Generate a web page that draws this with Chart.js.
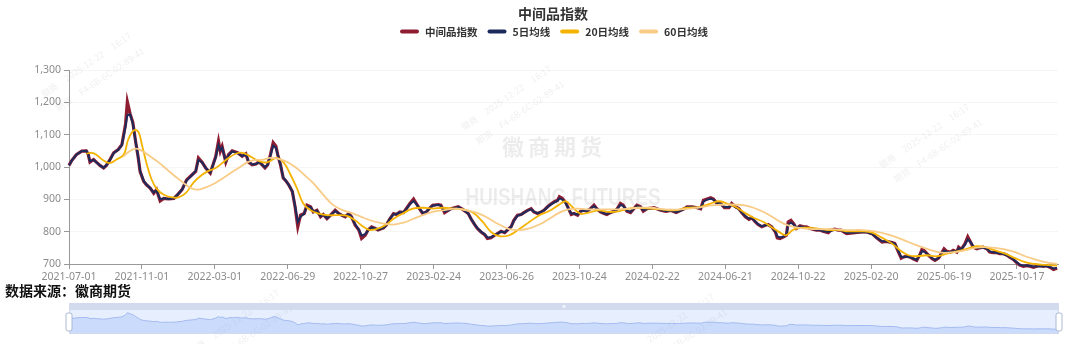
<!DOCTYPE html>
<html>
<head>
<meta charset="utf-8">
<script src="https://cdn.jsdelivr.net/npm/chart.js@4.4.1/dist/chart.umd.min.js"></script>
<style>
  body { margin: 0; background: #fff; }
  #wrap { position: relative; width: 1080px; height: 344px; }
  #main { position: absolute; left: 0; top: 0; }
  #zoom { position: absolute; left: 60px; top: 300px; }
</style>
</head>
<body>
<div id="wrap">
  <canvas id="main" width="1080" height="344"></canvas>
  <canvas id="zoom" width="1008" height="38"></canvas>
</div>
<script>
// tick labels, one every 80 trading days
const tickLabels = ['2021-07-01', '2021-11-01', '2022-03-01', '2022-06-29', '2022-10-27', '2023-02-24', '2023-06-26',
  '2023-10-24', '2024-02-22', '2024-06-21', '2024-10-22', '2025-02-20', '2025-06-19', '2025-10-17'];
const lastDay = 1085;

// trading-day position of each reading of the index / 5 day line
const indexPos = [
  0,3,8,14,19,21,23,27,30,34,38,41,45,49,54,58,62,64,67,70,
  73,76,78,82,85,89,93,96,100,104,109,115,118,124,129,135,139,142,146,150,
  155,161,164,166,168,172,175,179,185,190,194,197,201,205,208,
  210,215,218,221,224,227,229,232,235,238,241,245,248,251,254,258,261,265,268,272,
  276,279,283,287,292,296,299,303,307,310,314,318,321,325,328,332,336,339,345,348,
  352,356,359,363,367,370,374,378,381,385,388,392,396,399,405,408,412,416,419,
  427,432,438,441,445,448,452,456,459,463,467,470,474,478,481,485,488,492,496,499,
  503,507,510,514,518,521,525,528,532,536,538,541,545,548,551,554,558,561,565,568,
  572,576,579,583,587,590,594,598,601,605,608,612,616,619,623,627,630,634,
  642,649,655,660,666,669,675,678,684,689,693,696,700,704,707,711,715,719,724,727,
  731,735,738,742,746,749,753,756,760,764,767,771,775,777,780,784,787,789,792,795,
  798,802,806,809,813,816,820,824,827,833,836,840,844,847,853,
  870,875,881,886,892,897,903,906,910,913,915,919,923,926,930,934,936,939,943,947,
  950,954,957,960,963,967,970,974,976,979,983,986,989,992,996,999,1003,1007,1010,1014,
  1018,1021,1025,1029,1032,1036,1040,1043,1047,1051,1054,1058,1062,1065,1069,1072,1076,1080,1084
];
const indexVals = [
  1005,1020,1038,1049,1050,1040,1015,1023,1015,1005,997,1005,1023,1044,1054,1069,1132,1202,1165,1138,
  1080,1028,986,955,945,935,919,930,895,903,901,903,911,930,960,976,986,1028,1015,997,
  981,1033,1080,1049,1064,1015,1038,1050,1044,1033,1041,1015,1007,1009,1015,
  1012,997,1007,1038,1075,1064,1038,1007,966,957,945,924,877,815,851,856,882,877,861,866,
  846,853,840,851,866,856,851,846,856,846,820,805,779,789,805,815,810,805,812,820,
  840,856,853,861,859,871,887,901,887,869,856,861,874,882,884,882,859,866,871,
  877,869,856,840,822,810,799,791,779,781,789,794,801,797,805,815,835,851,853,859,
  866,871,861,856,861,866,877,884,892,897,908,903,890,871,853,856,851,863,866,863,
  871,882,871,861,856,853,859,863,869,887,882,863,859,869,882,877,863,871,
  874,866,863,866,859,863,871,877,877,874,871,897,901,905,901,887,887,874,874,887,
  877,871,859,846,838,843,830,822,815,820,822,815,799,781,779,784,789,830,835,825,
  810,818,815,815,810,808,805,805,801,797,805,808,805,805,794,
  799,799,794,781,768,770,766,763,737,718,721,724,721,716,711,732,747,739,727,716,
  711,718,732,747,739,737,742,737,752,745,763,784,768,752,747,750,752,747,737,735,
  735,732,732,727,721,714,703,697,693,695,693,690,693,695,693,695,690,683,687
];
const ma5Vals = [
  1005,1020,1038,1049,1050,1040,1018,1022,1015,1005,998,1005,1022,1043,1053,1068,1125,1160,1163,1135,
  1080,1030,988,957,946,935,921,928,900,903,901,903,911,930,958,975,988,1022,1014,997,
  983,1030,1068,1052,1060,1018,1036,1048,1043,1034,1039,1017,1008,1009,1014,
  1012,999,1008,1035,1066,1060,1038,1008,968,957,945,925,880,830,846,856,878,876,862,865,
  848,852,842,851,864,856,851,847,854,846,822,806,788,792,803,813,810,806,812,820,
  840,854,854,860,860,870,885,895,886,870,858,861,873,880,883,880,862,866,870,
  876,869,856,840,823,811,800,792,782,783,789,794,800,798,805,815,833,849,853,858,
  865,869,862,857,861,866,876,883,890,896,903,900,888,871,856,856,853,862,865,864,
  870,879,871,862,857,855,859,863,869,883,880,865,861,869,879,876,866,870,
  873,867,864,865,860,863,870,876,876,874,872,893,899,902,899,889,886,876,876,884,
  876,870,860,848,840,842,831,823,817,820,821,814,800,785,782,785,792,822,828,822,
  812,816,814,813,810,808,806,805,802,799,803,806,805,804,796,
  799,798,793,781,770,770,766,762,740,722,722,723,721,717,713,730,740,737,727,718,
  713,719,731,742,738,737,740,738,749,746,760,776,768,755,749,750,751,747,739,736,
  735,733,731,727,722,714,705,698,695,695,694,692,693,694,693,694,691,686,688
];

const ma20Pos = [
  19,25,30,38,45,52,60,65,71,76,80,85,90,96,104,113,120,128,137,146,
  153,161,168,175,183,190,197,205,212,218,228,236,243,250,257,265,274,283,294,305,
  314,323,330,337,346,356,366,377,388,399,410,425,432,443,454,463,472,483,494,505,
  516,526,537,545,552,561,570,581,592,603,614,625,639,649,664,678,693,704,713,722,
  731,740,751,762,773,782,787,794,802,813,824,834,845,853,870,881,892,903,912,921,
  930,941,952,963,974,985,996,1005,1016,1027,1038,1049,1060,1071,1084
];
const ma20Vals = [
  1041,1044,1038,1020,1012,1023,1038,1085,1113,1109,1069,1012,966,933,914,906,906,919,953,976,
  988,997,1012,1028,1041,1044,1036,1023,1015,1015,1028,1012,976,935,887,866,856,851,851,849,
  835,815,805,808,818,840,856,871,874,871,874,871,869,859,830,799,786,789,808,830,
  851,863,882,894,877,856,859,866,861,863,871,874,871,869,866,874,877,887,894,887,
  877,861,843,830,810,794,789,805,812,812,808,805,805,801,801,797,781,763,742,727,
  724,727,724,732,739,747,755,752,742,732,718,706,700,697,695
];

const ma60Pos = [
  60,65,73,80,89,98,108,117,126,135,142,150,159,168,177,186,196,205,212,221,
  236,247,258,268,279,290,301,312,323,333,345,356,367,378,388,399,410,425,436,450,
  461,472,483,494,505,516,527,538,548,559,570,581,592,603,614,625,639,653,671,689,
  707,726,740,751,762,773,784,795,806,816,827,838,853,870,884,899,914,928,943,957,
  972,983,994,1005,1016,1027,1038,1049,1060,1071,1084
];
const ma60Vals = [
  1033,1046,1057,1050,1033,1015,991,970,950,933,930,937,948,964,981,997,1015,1022,1022,1028,
  1020,1002,976,950,914,882,866,856,843,833,825,822,828,840,851,861,866,871,866,856,
  840,822,808,805,810,822,840,859,869,871,869,869,869,869,871,874,874,869,869,874,
  882,884,882,874,861,843,825,815,810,808,808,808,805,805,801,791,776,760,745,735,
  737,742,750,752,750,745,737,724,714,706,700
];

const seriesNames = ['中间品指数', '5日均线', '20日均线', '60日均线'];
const seriesColors = ['#8e1d32', '#1d2b5c', '#f3b300', '#f8cb86'];

function pts(xs, ys) {
  return xs.map((x, k) => ({ x: x, y: ys[k] }));
}

// faint diagonal watermark
function smallMark(ctx, x, y) {
  ctx.save();
  ctx.translate(x, y);
  ctx.rotate(-0.6);
  ctx.font = '9px "Noto Sans CJK SC"';
  ctx.fillStyle = 'rgba(0,0,0,0.07)';
  ctx.textAlign = 'left';
  ctx.textBaseline = 'middle';
  ctx.fillText('徽商     2025-12-22     16:17', 0, 0);
  ctx.fillText('期货     F4-6B-6C-02-89-41', 4, 20);
  ctx.restore();
}

const decor = {
  id: 'decor',
  beforeDatasetsDraw(chart) {
    const ctx = chart.ctx;
    ctx.save();
    ctx.fillStyle = 'rgba(0,0,0,0.075)';
    ctx.textAlign = 'center';
    ctx.textBaseline = 'middle';
    ctx.font = 'bold 22px "Noto Sans CJK SC"';
    '徽商期货'.split('').forEach((c, k) => ctx.fillText(c, 513 + k * 26, 147));
    ctx.font = 'bold 24px "Liberation Sans"';
    ctx.fillText('HUISHANG FUTURES', 563, 198, 195);
    ctx.restore();
    [[42, 95], [462, 128], [880, 166], [190, 352], [625, 356]].forEach(p => smallMark(ctx, p[0], p[1]));
  },
  afterDraw(chart) {
    const ctx = chart.ctx;
    ctx.save();
    // title
    ctx.fillStyle = '#333';
    ctx.textAlign = 'center';
    ctx.textBaseline = 'middle';
    ctx.font = 'bold 14px "Noto Sans CJK SC"';
    ctx.fillText('中间品指数', 553, 14);

    // legend
    ctx.font = 'bold 10.5px "Noto Sans CJK SC"';
    ctx.textAlign = 'left';
    let x = 400;
    chart.data.datasets.forEach(ds => {
      ctx.strokeStyle = ds.borderColor;
      ctx.lineWidth = 4;
      ctx.lineCap = 'round';
      ctx.beginPath();
      ctx.moveTo(x + 2, 31.5);
      ctx.lineTo(x + 17, 31.5);
      ctx.stroke();
      ctx.fillStyle = '#333';
      ctx.fillText(ds.label, x + 25, 32);
      x += 25 + ctx.measureText(ds.label).width + 10;
    });

    // source note
    ctx.fillStyle = '#111';
    ctx.font = 'bold 14px "Noto Sans CJK SC"';
    ctx.fillText('数据来源：徽商期货', 5, 291, 130);
    ctx.restore();
  }
};

const axisFont = { family: '"Noto Sans", sans-serif', size: 10.5 };

new Chart(document.getElementById('main'), {
  type: 'line',
  data: {
    datasets: [
      { label: seriesNames[0], data: pts(indexPos, indexVals), borderColor: seriesColors[0], borderWidth: 3.2, order: 4, clip: false },
      { label: seriesNames[1], data: pts(indexPos, ma5Vals), borderColor: seriesColors[1], borderWidth: 2, order: 3, clip: false },
      { label: seriesNames[2], data: pts(ma20Pos, ma20Vals), borderColor: seriesColors[2], borderWidth: 1.8, tension: 0.4, order: 2, clip: false },
      { label: seriesNames[3], data: pts(ma60Pos, ma60Vals), borderColor: seriesColors[3], borderWidth: 1.8, tension: 0.4, order: 1, clip: false }
    ]
  },
  options: {
    responsive: false,
    animation: false,
    layout: { padding: { left: 0, right: 22, top: 70, bottom: 58 } },
    elements: { point: { radius: 0 } },
    plugins: { legend: { display: false }, tooltip: { enabled: false } },
    scales: {
      x: {
        type: 'linear',
        min: 0,
        max: lastDay,
        afterBuildTicks: s => { s.ticks = tickLabels.map((t, k) => ({ value: k * 80 })); },
        afterFit: s => { s.height = 22; },
        ticks: {
          autoSkip: false, maxRotation: 0, padding: 2, color: '#8c8c8c', font: axisFont,
          callback: v => tickLabels[Math.round(v / 80)]
        },
        grid: { drawOnChartArea: false, tickLength: 5, tickColor: '#999' },
        border: { color: '#999' }
      },
      y: {
        min: 700,
        max: 1300,
        afterFit: s => { s.width = 69; },
        ticks: { stepSize: 100, padding: 3, color: '#8c8c8c', font: axisFont, callback: v => v.toLocaleString('en-US') },
        grid: { color: '#f5f5f5', tickLength: 5, tickColor: '#999' },
        border: { color: '#999' }
      }
    }
  },
  plugins: [decor]
});

// data zoom strip under the chart
const sliderDecor = {
  id: 'sliderDecor',
  beforeDatasetsDraw(chart) {
    const a = chart.chartArea, ctx = chart.ctx;
    ctx.save();
    ctx.fillStyle = 'rgba(135,175,255,0.2)';
    ctx.fillRect(a.left, a.top, a.right - a.left, a.bottom - a.top);
    ctx.restore();
  },
  afterDatasetsDraw(chart) {
    const a = chart.chartArea, ctx = chart.ctx;
    const w = a.right - a.left;
    ctx.save();
    ctx.fillStyle = '#d2dbee';
    ctx.fillRect(a.left, a.top - 7, w, 7);
    ctx.fillStyle = '#eef2fa';
    ctx.fillRect(a.left + w / 2 - 1.5, a.top - 5, 3, 3);
    ctx.strokeStyle = '#d2dbee';
    ctx.lineWidth = 1;
    ctx.strokeRect(a.left + 0.5, a.top - 6.5, w - 1, a.bottom - a.top + 6);
    const mid = (a.top + a.bottom) / 2;
    [a.left, a.right].forEach(x => {
      ctx.beginPath();
      ctx.roundRect(x - 3, mid - 9, 6, 18, 2);
      ctx.fillStyle = '#fff';
      ctx.fill();
      ctx.strokeStyle = '#acb8d1';
      ctx.stroke();
    });
    ctx.restore();
  }
};

new Chart(document.getElementById('zoom'), {
  type: 'line',
  data: {
    datasets: [{
      data: pts(indexPos, indexVals),
      borderColor: '#a3baf0',
      borderWidth: 1,
      fill: 'start',
      backgroundColor: 'rgba(120,160,240,0.25)',
      pointRadius: 0
    }]
  },
  options: {
    responsive: false,
    animation: false,
    layout: { padding: { left: 9, right: 9, top: 10, bottom: 4 } },
    plugins: { legend: { display: false }, tooltip: { enabled: false } },
    scales: {
      x: { type: 'linear', display: false, min: 0, max: lastDay },
      y: { display: false, min: 532, max: 1285 }
    }
  },
  plugins: [sliderDecor]
});
</script>
</body>
</html>
